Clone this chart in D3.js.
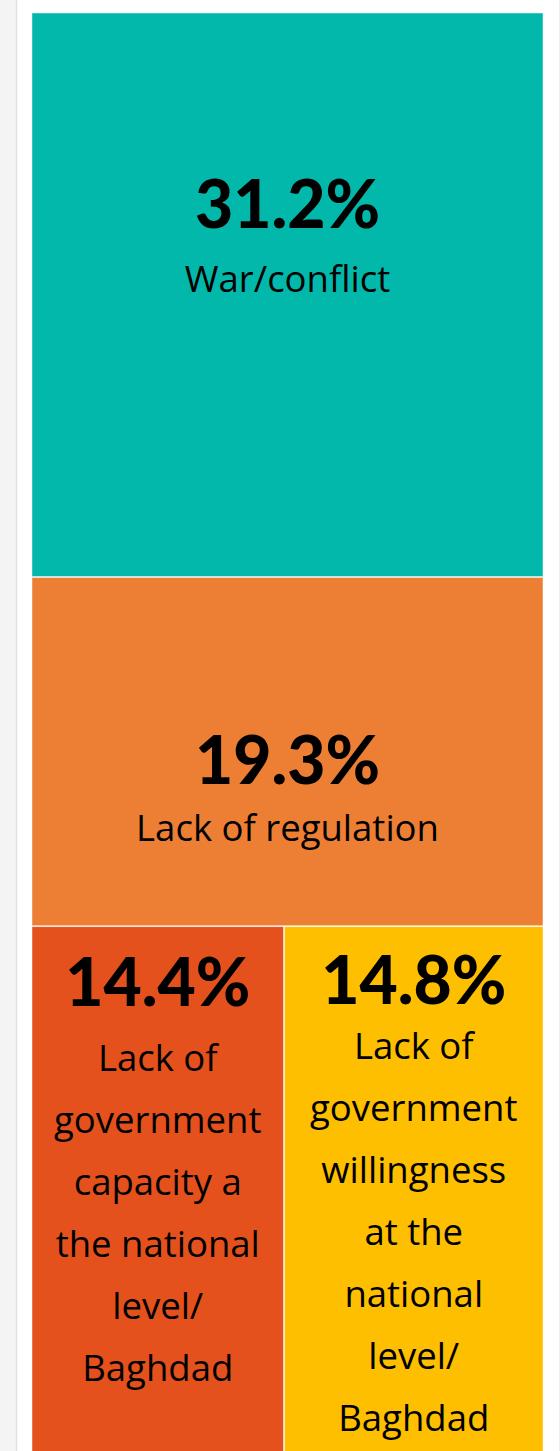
<!DOCTYPE html>
<html>
<head>
<meta charset="utf-8">
<script src="https://cdn.jsdelivr.net/npm/d3@7"></script>
<style>
  html, body { margin: 0; padding: 0; background: #fff; }
  svg { display: block; }
</style>
</head>
<body>
<svg id="chart" width="560" height="1451"></svg>
<script>
// Shares of reported causes (percent)
const categories = [
  "War/conflict",
  "Lack of regulation",
  "Lack of\ngovernment\ncapacity a\nthe national\nlevel/\nBaghdad",
  "Lack of\ngovernment\nwillingness\nat the\nnational\nlevel/\nBaghdad"
];
const values = [31.2, 19.3, 14.4, 14.8];
const colors = ["#02b8aa", "#ed7f35", "#e5511c", "#fdbf00"];
// the last two causes share one row
const rowGroup = [0, 1, 2, 2];

// label placement inside each cell: baseline of the number from the cell top,
// and distance from the number's baseline to the first text line
const labelNumberOffset = [215, 207, 79, 77];
const labelTextGap = [64, 57, 65, 55];

const frame = { x: 32, y: 13, w: 511, h: 1441 };

const svg = d3.select("#chart");

// page chrome: grey side strip with a divider
svg.append("rect").attr("x", 0).attr("y", 0).attr("width", 16).attr("height", 1451).attr("fill", "#f4f4f4");
svg.append("line").attr("x1", 16.5).attr("x2", 16.5).attr("y1", 0).attr("y2", 1451)
  .attr("stroke", "#e1e1e1").attr("stroke-width", 1.5);
svg.append("line").attr("x1", 559.5).attr("x2", 559.5).attr("y1", 0).attr("y2", 1451)
  .attr("stroke", "#eeeeee").attr("stroke-width", 1);

// hierarchy: rows stacked top to bottom, cells side by side inside a row
const groups = d3.groups(values.map((v, i) => ({ i, v })), d => rowGroup[d.i]);
const rootData = {
  children: groups.map(([g, items]) => ({
    children: items.map(d => ({ index: d.i, value: d.v }))
  }))
};

const root = d3.hierarchy(rootData)
  .sum(d => d.value || 0);

const tile = (node, x0, y0, x1, y1) => {
  if (node.depth === 0) d3.treemapSlice(node, x0, y0, x1, y1);
  else d3.treemapDice(node, x0, y0, x1, y1);
};

d3.treemap()
  .tile(tile)
  .size([frame.w, frame.h])
  .paddingInner(1)
  .round(false)(root);

const leaves = root.leaves();

const g = svg.append("g").attr("transform", `translate(${frame.x},${frame.y})`);

const cell = g.selectAll("g.cell")
  .data(leaves)
  .join("g")
  .attr("class", "cell");

cell.append("rect")
  .attr("x", d => d.x0)
  .attr("y", d => d.y0)
  .attr("width", d => d.x1 - d.x0)
  .attr("height", d => d.y1 - d.y0)
  .attr("fill", d => colors[d.data.index])
  .attr("stroke", "rgba(255,255,255,0.55)")
  .attr("stroke-width", 0.8);

const fmt = d3.format(".1f");

cell.each(function(d) {
  const i = d.data.index;
  const cx = (d.x0 + d.x1) / 2;
  const base = d.y0 + labelNumberOffset[i];
  const sel = d3.select(this);
  sel.append("text")
    .attr("x", cx)
    .attr("y", base)
    .attr("text-anchor", "middle")
    .attr("font-family", "Lato, 'Open Sans', sans-serif")
    .attr("font-weight", 900)
    .attr("font-size", 66)
    .attr("fill", "#000")
    .text(fmt(values[i]) + "%");
  const lines = categories[i].split("\n");
  const t = sel.append("text")
    .attr("text-anchor", "middle")
    .attr("font-family", "'Open Sans', sans-serif")
    .attr("font-size", 36.5)
    .attr("fill", "#000");
  lines.forEach((ln, k) => {
    t.append("tspan")
      .attr("x", cx)
      .attr("y", base + labelTextGap[i] + k * 62)
      .text(ln);
  });
});
</script>
</body>
</html>
